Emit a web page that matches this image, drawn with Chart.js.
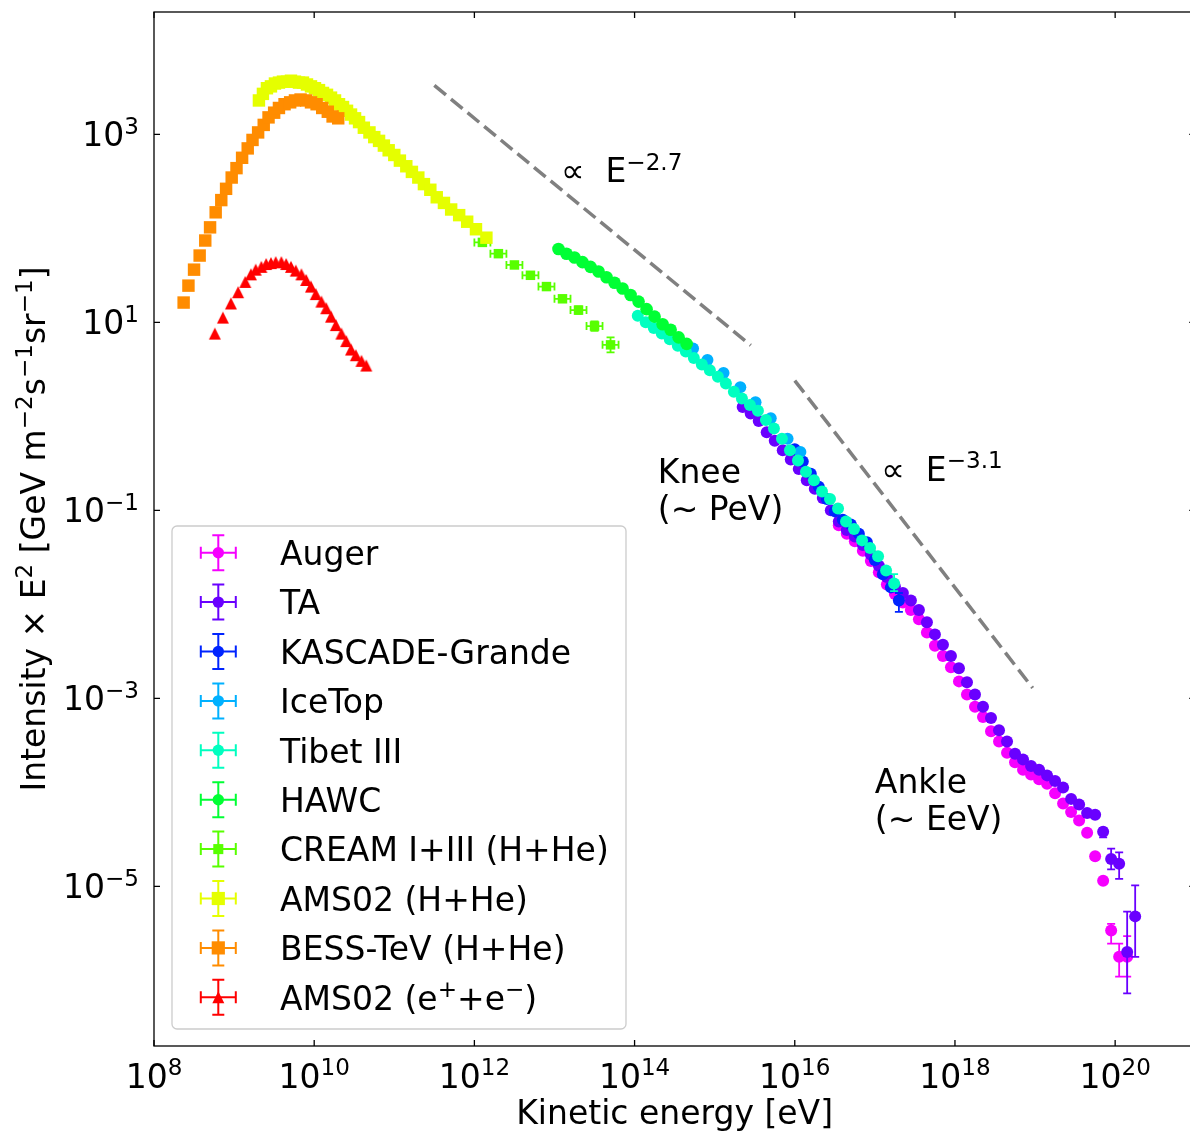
<!DOCTYPE html>
<html>
<head>
<meta charset="utf-8">
<title>Cosmic-ray all-particle spectrum</title>
<script src="https://cdn.jsdelivr.net/npm/chart.js@4.4.1/dist/chart.umd.min.js"></script>
<style>
  html, body { margin: 0; padding: 0; background: #fff; }
  canvas { display: block; }
</style>
</head>
<body>
<canvas id="spectrum" width="1190" height="1133"></canvas>
<script>
// Energies are kept as log10(E / eV), intensities as log10(E^2 J) in GeV m^-2 s^-1 sr^-1

/* Auger */
const augerLogE = [16.55, 16.65, 16.75, 16.85, 16.95, 17.05, 17.15, 17.25, 17.35, 17.45, 17.55, 17.65, 17.75,
  17.85, 17.95, 18.05, 18.15, 18.25, 18.35, 18.45, 18.55, 18.65, 18.75, 18.85, 18.95, 19.05, 19.15, 19.25,
  19.35, 19.45, 19.55, 19.65, 19.75, 19.85, 19.95, 20.05, 20.15];
const augerLogJ = [-1.16, -1.25, -1.33, -1.43, -1.54, -1.66, -1.79, -1.89, -1.98, -2.06, -2.16, -2.30, -2.44,
  -2.55, -2.67, -2.82, -2.96, -3.09, -3.20, -3.35, -3.46, -3.58, -3.68, -3.76, -3.81, -3.86, -3.91, -4.01,
  -4.12, -4.21, -4.30, -4.43, -4.68, -4.94, -5.47, -5.75, -5.75];
// point index -> [down, up] in decades
const augerErr = { 34: [0.14, 0.07], 35: [0.21, 0.14], 36: [0.21, 0.22] };

/* Telescope Array */
const taLogE = [15.35, 15.45, 15.55, 15.65, 15.75, 15.85, 15.95, 16.05, 16.15, 16.25, 16.35, 16.45, 16.55,
  16.65, 16.75, 16.85, 16.95, 17.05, 17.15, 17.25, 17.35, 17.45, 17.55, 17.65, 17.75, 17.85, 17.95, 18.05,
  18.15, 18.25, 18.35, 18.45, 18.55, 18.65, 18.75, 18.85, 18.95, 19.05, 19.15, 19.25, 19.35, 19.45, 19.55,
  19.65, 19.75, 19.85, 19.95, 20.05, 20.15, 20.25];
const taLogJ = [0.10, 0.03, -0.05, -0.17, -0.26, -0.36, -0.46, -0.56, -0.68, -0.77, -0.87, -1.00, -1.12,
  -1.21, -1.28, -1.37, -1.47, -1.59, -1.71, -1.81, -1.88, -1.96, -2.06, -2.19, -2.32, -2.43, -2.55, -2.68,
  -2.83, -2.96, -3.09, -3.21, -3.34, -3.46, -3.59, -3.65, -3.72, -3.76, -3.82, -3.88, -3.95, -4.07, -4.13,
  -4.22, -4.24, -4.42, -4.71, -4.76, -5.70, -5.32];
const taErr = { 45: [0.06, 0.04], 46: [0.11, 0.11], 47: [0.16, 0.12], 48: [0.44, 0.43], 49: [0.43, 0.33] };

/* KASCADE-Grande */
const kgLogE = [16.0, 16.1, 16.2, 16.3, 16.4, 16.5, 16.6, 16.7, 16.8, 16.9, 17.0, 17.1, 17.2, 17.3];
const kgLogJ = [-0.35, -0.48, -0.61, -0.75, -0.88, -1.01, -1.10, -1.15, -1.25, -1.34, -1.53, -1.68, -1.82, -1.96];
const kgErr = { 13: [0.12, 0.08] };

/* IceTop */
const iceLogE = [14.73, 14.91, 15.11, 15.32, 15.51, 15.70, 15.91, 16.07];
const iceLogJ = [0.72, 0.60, 0.46, 0.31, 0.15, -0.02, -0.24, -0.38];

/* Tibet III */
const tibetLogE = [14.04, 14.14, 14.24, 14.34, 14.44, 14.54, 14.64, 14.74, 14.84, 14.94, 15.04, 15.14, 15.24,
  15.34, 15.44, 15.54, 15.64, 15.74, 15.84, 15.94, 16.04, 16.14, 16.24, 16.34, 16.44, 16.54, 16.64, 16.74,
  16.84, 16.94, 17.04, 17.14, 17.24];
const tibetLogJ = [1.07, 1.00, 0.94, 0.88, 0.82, 0.75, 0.69, 0.62, 0.55, 0.49, 0.42, 0.35, 0.26, 0.19, 0.12,
  0.06, -0.04, -0.13, -0.24, -0.36, -0.47, -0.59, -0.68, -0.80, -0.88, -0.98, -1.12, -1.20, -1.32, -1.40,
  -1.49, -1.64, -1.78];
const tibetErr = { 32: [0.08, 0.1] };

/* HAWC */
const hawcLogE = [13.05, 13.15, 13.25, 13.35, 13.45, 13.55, 13.65, 13.75, 13.85, 13.95, 14.05, 14.15, 14.25,
  14.35, 14.45, 14.55, 14.65];
const hawcLogJ = [1.78, 1.73, 1.69, 1.64, 1.59, 1.54, 1.48, 1.42, 1.36, 1.29, 1.22, 1.14, 1.06, 0.98, 0.92,
  0.84, 0.77];

/* CREAM I+III (H+He) */
const creamLogE = [12.1, 12.3, 12.5, 12.7, 12.9, 13.1, 13.3, 13.5, 13.7];
const creamLogJ = [1.85, 1.73, 1.61, 1.50, 1.38, 1.25, 1.13, 0.96, 0.76];
const creamErr = { 0: [0.02, 0.02], 1: [0.02, 0.02], 2: [0.02, 0.02], 3: [0.03, 0.03], 4: [0.03, 0.03],
  5: [0.03, 0.03], 6: [0.04, 0.04], 7: [0.05, 0.05], 8: [0.08, 0.08] };
const creamBinHalf = 0.1;

/* AMS02 (H+He) */
const amsNucLogE = [9.31, 9.36, 9.41, 9.46, 9.51, 9.56, 9.61, 9.66, 9.71, 9.76, 9.81, 9.86, 9.91, 9.96, 10.01,
  10.06, 10.11, 10.16, 10.21, 10.26, 10.31, 10.36, 10.41, 10.46, 10.51, 10.56, 10.62, 10.69, 10.75, 10.81,
  10.87, 10.93, 11.00, 11.07, 11.15, 11.22, 11.30, 11.37, 11.45, 11.53, 11.62, 11.71, 11.81, 11.91, 12.02, 12.15];
const amsNucLogJ = [3.36, 3.43, 3.49, 3.51, 3.54, 3.55, 3.56, 3.56, 3.57, 3.56, 3.55, 3.55, 3.53, 3.51, 3.49,
  3.47, 3.44, 3.42, 3.39, 3.36, 3.32, 3.29, 3.25, 3.21, 3.17, 3.13, 3.07, 3.02, 2.97, 2.93, 2.88, 2.83, 2.78,
  2.72, 2.66, 2.60, 2.54, 2.47, 2.41, 2.33, 2.27, 2.20, 2.14, 2.07, 1.99, 1.90];

/* BESS-TeV (H+He) */
const bessLogE = [8.37, 8.43, 8.50, 8.57, 8.64, 8.70, 8.77, 8.84, 8.90, 8.97, 9.03, 9.10, 9.17, 9.23, 9.30,
  9.37, 9.43, 9.50, 9.56, 9.63, 9.70, 9.76, 9.83, 9.90, 9.96, 10.03, 10.10, 10.17, 10.23, 10.30];
const bessLogJ = [1.21, 1.39, 1.56, 1.71, 1.87, 2.01, 2.17, 2.30, 2.42, 2.54, 2.64, 2.75, 2.85, 2.94, 3.02,
  3.10, 3.18, 3.23, 3.28, 3.32, 3.34, 3.36, 3.37, 3.36, 3.34, 3.32, 3.28, 3.24, 3.19, 3.17];

/* AMS02 (e+ + e-) */
const amsLepLogE = [8.76, 8.86, 8.96, 9.05, 9.14, 9.21, 9.27, 9.34, 9.40, 9.46, 9.52, 9.59, 9.65, 9.71, 9.77,
  9.84, 9.90, 9.96, 10.02, 10.09, 10.15, 10.21, 10.27, 10.34, 10.40, 10.46, 10.52, 10.59, 10.65];
const amsLepLogJ = [0.88, 1.05, 1.20, 1.32, 1.43, 1.51, 1.56, 1.59, 1.62, 1.63, 1.64, 1.64, 1.62, 1.59, 1.55,
  1.51, 1.45, 1.38, 1.30, 1.22, 1.15, 1.06, 0.97, 0.88, 0.80, 0.71, 0.65, 0.59, 0.54];

/* reference power laws (E^2 x E^-2.7 and E^2 x E^-3.1) */
const slope27LogE = [11.5, 15.45];
const slope27LogJ = [3.52, 0.755];
const slope31LogE = [16.0, 18.97];
const slope31LogJ = [0.38, -2.89];

/* axes: the frame runs on past the right edge of the canvas, up to 1e21 */
const xRange = [1e8, 8.6e20];
const xFrameEnd = 1e21;
const yRange = [2e-7, 2e4];
const xTickExps = [8, 10, 12, 14, 16, 18, 20];
const yTickExps = [3, 1, -1, -3, -5];

const FONT = '"DejaVu Sans", "Liberation Sans", sans-serif';
const FS = 33;

function makeTriangle(color, size) {
  const c = document.createElement('canvas');
  c.width = size + 2;
  c.height = size + 2;
  const g = c.getContext('2d');
  g.fillStyle = color;
  g.beginPath();
  g.moveTo(c.width / 2, 1);
  g.lineTo(c.width - 1, c.height - 1);
  g.lineTo(1, c.height - 1);
  g.closePath();
  g.fill();
  return c;
}

const series = [
  { label: [['Auger', 0]], color: '#f600ff', marker: 'circle', radius: 6, logE: augerLogE, logJ: augerLogJ, err: augerErr },
  { label: [['TA', 0]], color: '#6900ff', marker: 'circle', radius: 6, logE: taLogE, logJ: taLogJ, err: taErr },
  { label: [['KASCADE-Grande', 0]], color: '#0024ff', marker: 'circle', radius: 6, logE: kgLogE, logJ: kgLogJ, err: kgErr },
  { label: [['IceTop', 0]], color: '#00b1ff', marker: 'circle', radius: 6, logE: iceLogE, logJ: iceLogJ },
  { label: [['Tibet III', 0]], color: '#00ffc0', marker: 'circle', radius: 6, logE: tibetLogE, logJ: tibetLogJ, err: tibetErr },
  { label: [['HAWC', 0]], color: '#00ff34', marker: 'circle', radius: 6.3, logE: hawcLogE, logJ: hawcLogJ },
  { label: [['CREAM I+III (H+He)', 0]], color: '#58ff00', marker: 'rect', radius: 6.7, logE: creamLogE, logJ: creamLogJ, err: creamErr, xHalf: creamBinHalf },
  { label: [['AMS02 (H+He)', 0]], color: '#e5ff00', marker: 'rect', radius: 8.8, logE: amsNucLogE, logJ: amsNucLogJ },
  { label: [['BESS-TeV (H+He)', 0]], color: '#ff8c00', marker: 'rect', radius: 8.8, logE: bessLogE, logJ: bessLogJ },
  { label: [['AMS02 (e', 0], ['+', 1], ['+e', 0], ['\u2212', 1], [')', 0]], color: '#ff0000', marker: 'tri', radius: 7, logE: amsLepLogE, logJ: amsLepLogJ }
];

const notes = [
  { logE: 13.08, logJ: 2.49, lines: [[['\u221d  E', 0], ['\u22122.7', 1]]] },
  { logE: 17.08, logJ: -0.686, lines: [[['\u221d  E', 0], ['\u22123.1', 1]]] },
  { logE: 14.29, logJ: -0.707, lines: [[['Knee', 0]], [['(\u223c PeV)', 0]]] },
  { logE: 17.0, logJ: -4.007, lines: [[['Ankle', 0]], [['(\u223c EeV)', 0]]] }
];

const toPoints = (lx, ly) => lx.map((v, i) => ({ x: Math.pow(10, v), y: Math.pow(10, ly[i]) }));

function richWidth(ctx, parts, fs) {
  let w = 0;
  parts.forEach(([t, sup]) => {
    ctx.font = `${sup ? fs * 0.7 : fs}px ${FONT}`;
    w += ctx.measureText(t).width;
  });
  return w;
}

function drawRich(ctx, parts, x, y, fs) {
  let cx = x;
  parts.forEach(([t, sup]) => {
    ctx.font = `${sup ? fs * 0.7 : fs}px ${FONT}`;
    ctx.fillText(t, cx, sup ? y - fs * 0.38 : y);
    cx += ctx.measureText(t).width;
  });
}

function drawErrorBars(chart, s) {
  const { ctx, scales: { x, y } } = chart;
  const cap = 4;
  ctx.save();
  ctx.strokeStyle = s.color;
  ctx.lineWidth = 1.8;
  ctx.beginPath();
  s.logE.forEach((le, i) => {
    const px = x.getPixelForValue(Math.pow(10, le));
    const py = y.getPixelForValue(Math.pow(10, s.logJ[i]));
    if (s.err && s.err[i]) {
      const [dn, up] = s.err[i];
      const y0 = y.getPixelForValue(Math.pow(10, s.logJ[i] - dn));
      const y1 = y.getPixelForValue(Math.pow(10, s.logJ[i] + up));
      ctx.moveTo(px, y0); ctx.lineTo(px, y1);
      ctx.moveTo(px - cap, y0); ctx.lineTo(px + cap, y0);
      ctx.moveTo(px - cap, y1); ctx.lineTo(px + cap, y1);
    }
    if (s.xHalf) {
      const x0 = x.getPixelForValue(Math.pow(10, le - s.xHalf));
      const x1 = x.getPixelForValue(Math.pow(10, le + s.xHalf));
      ctx.moveTo(x0, py); ctx.lineTo(x1, py);
      ctx.moveTo(x0, py - cap); ctx.lineTo(x0, py + cap);
      ctx.moveTo(x1, py - cap); ctx.lineTo(x1, py + cap);
    }
  });
  ctx.stroke();
  ctx.restore();
}

function drawFrame(chart) {
  const { ctx, chartArea: a, scales: { x, y } } = chart;
  const tick = 6;
  const right = x.getPixelForValue(xFrameEnd);
  ctx.save();
  ctx.strokeStyle = '#000';
  ctx.lineWidth = 1.3;
  ctx.strokeRect(a.left, a.top, right - a.left, a.bottom - a.top);
  ctx.beginPath();
  xTickExps.forEach(e => {
    const px = x.getPixelForValue(Math.pow(10, e));
    ctx.moveTo(px, a.bottom); ctx.lineTo(px, a.bottom - tick);
    ctx.moveTo(px, a.top); ctx.lineTo(px, a.top + tick);
  });
  yTickExps.forEach(e => {
    const py = y.getPixelForValue(Math.pow(10, e));
    ctx.moveTo(a.left, py); ctx.lineTo(a.left + tick, py);
    ctx.moveTo(right, py); ctx.lineTo(right - tick, py);
  });
  ctx.stroke();

  ctx.fillStyle = '#000';
  ctx.textAlign = 'left';
  ctx.textBaseline = 'alphabetic';
  xTickExps.forEach(e => {
    const parts = [['10', 0], [String(e), 1]];
    const w = richWidth(ctx, parts, FS);
    drawRich(ctx, parts, x.getPixelForValue(Math.pow(10, e)) - w / 2, a.bottom + 42, FS);
  });
  yTickExps.forEach(e => {
    const parts = [['10', 0], [String(e).replace('-', '\u2212'), 1]];
    const w = richWidth(ctx, parts, FS);
    drawRich(ctx, parts, a.left - 15 - w, y.getPixelForValue(Math.pow(10, e)) + 12, FS);
  });

  // axis titles
  ctx.font = `${FS}px ${FONT}`;
  ctx.textAlign = 'center';
  ctx.fillText('Kinetic energy [eV]', (a.left + right) / 2, a.bottom + 78);
  ctx.textAlign = 'left';
  const yTitle = [['Intensity \u00d7 E', 0], ['2', 1], [' [GeV m', 0], ['\u22122', 1], ['s', 0], ['\u22121', 1],
    ['sr', 0], ['\u22121', 1], [']', 0]];
  ctx.translate(45, (a.top + a.bottom) / 2);
  ctx.rotate(-Math.PI / 2);
  drawRich(ctx, yTitle, -richWidth(ctx, yTitle, FS) / 2, 0, FS);
  ctx.restore();
}

function drawNotes(chart) {
  const { ctx, scales: { x, y } } = chart;
  ctx.save();
  ctx.fillStyle = '#000';
  ctx.textAlign = 'left';
  ctx.textBaseline = 'alphabetic';
  notes.forEach(n => {
    const px = x.getPixelForValue(Math.pow(10, n.logE));
    const py = y.getPixelForValue(Math.pow(10, n.logJ));
    n.lines.forEach((parts, k) => drawRich(ctx, parts, px, py + k * 37.5, FS));
  });
  ctx.restore();
}

function drawLegend(chart) {
  const { ctx } = chart;
  const box = { left: 172, top: 526, right: 626, bottom: 1029 };
  const r = 5;
  ctx.save();
  ctx.beginPath();
  ctx.roundRect(box.left, box.top, box.right - box.left, box.bottom - box.top, r);
  ctx.fillStyle = 'rgba(255,255,255,0.8)';
  ctx.fill();
  ctx.strokeStyle = '#cccccc';
  ctx.lineWidth = 1.3;
  ctx.stroke();

  series.forEach((s, i) => {
    const cy = 552.7 + i * 49.4;
    const cx = 218.3;
    const arm = 17.5, cap = 6;
    ctx.strokeStyle = s.color;
    ctx.lineWidth = 2;
    ctx.beginPath();
    ctx.moveTo(cx - arm, cy); ctx.lineTo(cx + arm, cy);
    ctx.moveTo(cx, cy - arm); ctx.lineTo(cx, cy + arm);
    ctx.moveTo(cx - arm, cy - cap); ctx.lineTo(cx - arm, cy + cap);
    ctx.moveTo(cx + arm, cy - cap); ctx.lineTo(cx + arm, cy + cap);
    ctx.moveTo(cx - cap, cy - arm); ctx.lineTo(cx + cap, cy - arm);
    ctx.moveTo(cx - cap, cy + arm); ctx.lineTo(cx + cap, cy + arm);
    ctx.stroke();
    ctx.fillStyle = s.color;
    ctx.beginPath();
    if (s.marker === 'circle') {
      ctx.arc(cx, cy, 5.7, 0, Math.PI * 2);
    } else if (s.marker === 'rect') {
      const h = s.radius * 0.75;
      ctx.rect(cx - h, cy - h, 2 * h, 2 * h);
    } else {
      ctx.moveTo(cx, cy - 6); ctx.lineTo(cx + 6, cy + 6); ctx.lineTo(cx - 6, cy + 6); ctx.closePath();
    }
    ctx.fill();
    ctx.fillStyle = '#000';
    ctx.textAlign = 'left';
    ctx.textBaseline = 'alphabetic';
    drawRich(ctx, s.label, 280, cy + 12.2, FS);
  });
  ctx.restore();
}

const spectrumPlugin = {
  id: 'spectrumDecor',
  beforeDraw(chart) {
    const { ctx, width, height } = chart;
    ctx.save();
    ctx.fillStyle = '#fff';
    ctx.fillRect(0, 0, width, height);
    ctx.restore();
  },
  beforeDatasetDraw(chart, args) {
    const s = series[args.index];
    if (s && (s.err || s.xHalf)) drawErrorBars(chart, s);
  },
  afterDraw(chart) {
    drawFrame(chart);
    drawNotes(chart);
    drawLegend(chart);
  }
};

const datasets = series.map((s, i) => ({
  label: s.label.map(p => p[0]).join(''),
  data: toPoints(s.logE, s.logJ),
  pointStyle: s.marker === 'tri' ? makeTriangle(s.color, 12.5) : s.marker,
  pointRadius: s.radius,
  pointBackgroundColor: s.color,
  pointBorderWidth: 0,
  order: 20 - i
}));

[[slope27LogE, slope27LogJ], [slope31LogE, slope31LogJ]].forEach(([lx, ly]) => {
  datasets.push({
    data: toPoints(lx, ly),
    showLine: true,
    borderColor: '#808080',
    borderWidth: 3.5,
    borderDash: [15, 6.5],
    pointRadius: 0,
    order: 0
  });
});

new Chart(document.getElementById('spectrum'), {
  type: 'scatter',
  data: { datasets },
  plugins: [spectrumPlugin],
  options: {
    responsive: false,
    devicePixelRatio: 1,
    animation: false,
    events: [],
    layout: { autoPadding: false, padding: { left: 154, top: 12, right: 0, bottom: 87 } },
    plugins: { legend: { display: false }, tooltip: { enabled: false } },
    scales: {
      x: { type: 'logarithmic', display: false, min: xRange[0], max: xRange[1] },
      y: { type: 'logarithmic', display: false, min: yRange[0], max: yRange[1] }
    }
  }
});
</script>
</body>
</html>
